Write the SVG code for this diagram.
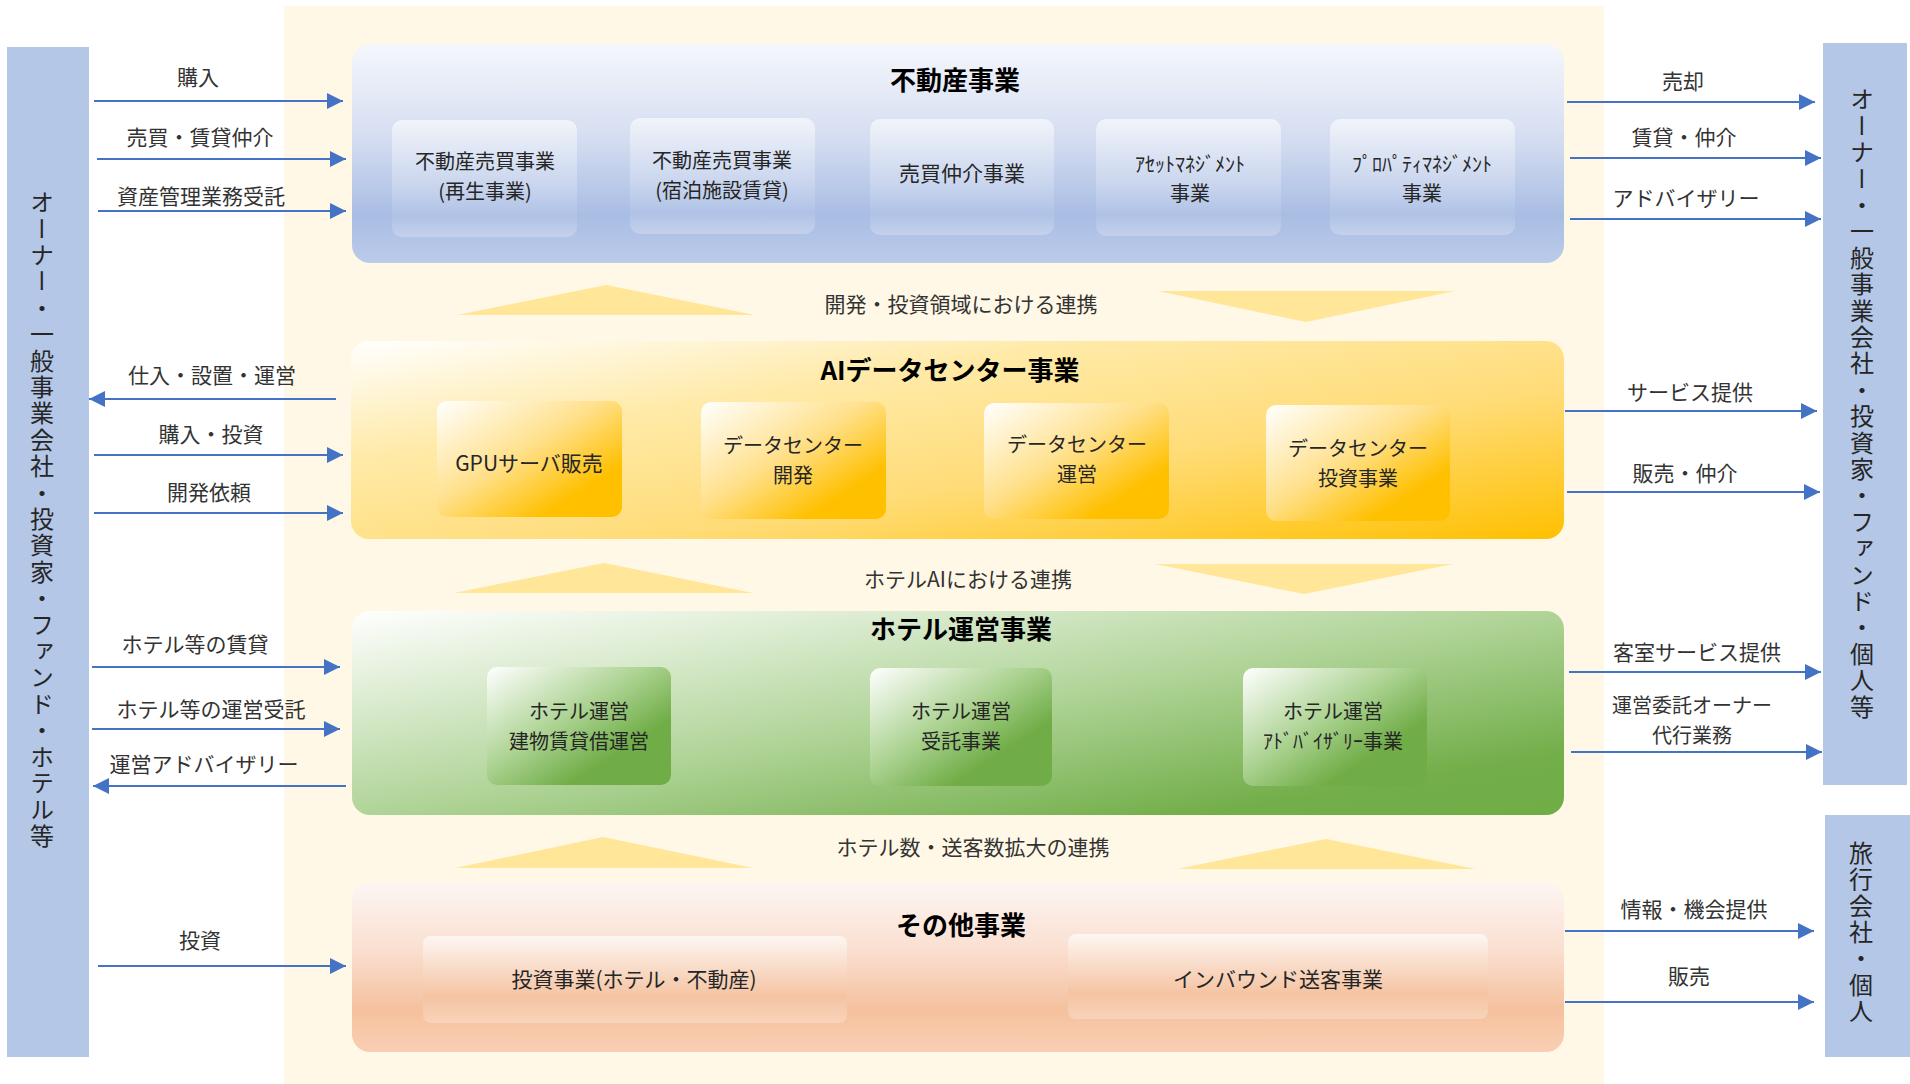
<svg xmlns="http://www.w3.org/2000/svg" width="1910" height="1084" viewBox="0 0 1910 1084">
<defs>
<style>
text{font-family:"Noto Sans CJK JP","Noto Sans",sans-serif;fill:#333333;dominant-baseline:central;text-anchor:middle;}
.lbl{font-size:21px;}
.in{font-size:21px;fill:#262626;}
.in2{font-size:20px;fill:#262626;}
.lbl2{font-size:20px;}
.ttl{font-size:26px;font-weight:bold;fill:#000000;}
.vt{font-size:24px;letter-spacing:2.4px;writing-mode:vertical-rl;fill:#262626;}
.bar{fill:#B4C7E7;}
.tri{fill:#FFE699;}
.cn{stroke:#4472C4;stroke-width:2.2;fill:none;marker-end:url(#ah);}
</style>
<marker id="ah" viewBox="0 0 16 16" markerUnits="userSpaceOnUse" markerWidth="16" markerHeight="16" refX="16" refY="8" orient="auto">
<path d="M0,0 L16,8 L0,16 z" fill="#4472C4"/>
</marker>
<linearGradient id="gRe" x1="0" y1="0" x2="0" y2="1">
<stop offset="0" stop-color="#F5F7FC"/><stop offset="0.45" stop-color="#D3DCF0"/><stop offset="0.78" stop-color="#A9BDE3"/><stop offset="1" stop-color="#BBCBEA"/>
</linearGradient>
<linearGradient id="gReIn" x1="0" y1="0" x2="0" y2="1">
<stop offset="0" stop-color="#F1F4FA"/><stop offset="0.55" stop-color="#CAD6EE"/><stop offset="0.82" stop-color="#AFC2E6"/><stop offset="1" stop-color="#C4D1EC"/>
</linearGradient>
<linearGradient id="gAi" x1="0" y1="0" x2="1" y2="1">
<stop offset="0" stop-color="#FFFFFF"/><stop offset="0.3" stop-color="#FFEAA8"/><stop offset="0.62" stop-color="#FFDC78"/><stop offset="1" stop-color="#FFC000"/>
</linearGradient>
<linearGradient id="gAiIn" x1="0" y1="0" x2="1" y2="1">
<stop offset="0" stop-color="#FFFFFF"/><stop offset="0.45" stop-color="#FFE08A"/><stop offset="0.78" stop-color="#FFC000"/><stop offset="1" stop-color="#FFC000"/>
</linearGradient>
<linearGradient id="gHo" x1="0" y1="0" x2="1" y2="1">
<stop offset="0" stop-color="#FFFFFF"/><stop offset="0.5" stop-color="#B0D498"/><stop offset="0.85" stop-color="#72AE49"/><stop offset="1" stop-color="#70AD47"/>
</linearGradient>
<linearGradient id="gHoIn" x1="0" y1="0" x2="1" y2="1">
<stop offset="0" stop-color="#FFFFFF"/><stop offset="0.45" stop-color="#A9D18E"/><stop offset="0.72" stop-color="#70AD47"/><stop offset="1" stop-color="#70AD47"/>
</linearGradient>
<linearGradient id="gOt" x1="0" y1="0" x2="0" y2="1">
<stop offset="0" stop-color="#FDF6F4"/><stop offset="0.4" stop-color="#FADFD0"/><stop offset="0.75" stop-color="#F5C19E"/><stop offset="1" stop-color="#F8CFB4"/>
</linearGradient>
<linearGradient id="gOtIn" x1="0" y1="0" x2="0" y2="1">
<stop offset="0" stop-color="#FDF6F3"/><stop offset="0.7" stop-color="#F5C4A2"/><stop offset="1" stop-color="#F8D3BA"/>
</linearGradient>
</defs>

<rect x="0" y="0" width="1910" height="1084" fill="#FFFFFF"/>
<rect x="284" y="6" width="1320" height="1078" fill="#FFF8E6"/>

<g id="left-party">
<rect class="bar" x="7" y="47" width="82" height="1010"/>
<text class="vt" x="42" y="520">オーナー・一般事業会社・投資家・ファンド・ホテル等</text>
</g>
<g id="right-party">
<rect class="bar" x="1823" y="43" width="84" height="742"/>
<text class="vt" x="1862" y="404">オーナー・一般事業会社・投資家・ファンド・個人等</text>
</g>
<g id="travel-party">
<rect class="bar" x="1825" y="815" width="85" height="242"/>
<text class="vt" x="1861" y="933">旅行会社・個人</text>
</g>

<g id="collab">
<polygon class="tri" points="457,315 606,285 755,315"/>
<polygon class="tri" points="1158,291 1455,291 1306,322"/>
<text class="lbl" x="961" y="303">開発・投資領域における連携</text>
<polygon class="tri" points="454,593 604,563 753,593"/>
<polygon class="tri" points="1155,564 1453,564 1304,594"/>
<text class="lbl" x="968" y="578">ホテルAIにおける連携</text>
<polygon class="tri" points="455,868 603,837 753,868"/>
<polygon class="tri" points="1177,869 1326,839 1476,869"/>
<text class="lbl" x="973" y="846">ホテル数・送客数拡大の連携</text>
</g>

<g id="real-estate">
<rect x="352" y="44" width="1212" height="219" rx="18" fill="url(#gRe)"/>
<text class="ttl" x="955" y="78">不動産事業</text>
<g id="re-1"><rect x="392" y="120" width="185" height="117" rx="10" fill="url(#gReIn)"/>
<text class="in2"><tspan x="485" y="160">不動産売買事業</tspan><tspan x="485" y="190">(再生事業)</tspan></text></g>
<g id="re-2"><rect x="630" y="118" width="185" height="116" rx="10" fill="url(#gReIn)"/>
<text class="in2"><tspan x="722" y="159">不動産売買事業</tspan><tspan x="722" y="189">(宿泊施設賃貸)</tspan></text></g>
<g id="re-3"><rect x="870" y="119" width="184" height="116" rx="10" fill="url(#gReIn)"/>
<text class="in" x="962" y="172">売買仲介事業</text></g>
<g id="re-4"><rect x="1096" y="119" width="185" height="117" rx="10" fill="url(#gReIn)"/>
<text class="in2"><tspan x="1190" y="163">ｱｾｯﾄﾏﾈｼﾞﾒﾝﾄ</tspan><tspan x="1190" y="192">事業</tspan></text></g>
<g id="re-5"><rect x="1330" y="119" width="185" height="116" rx="10" fill="url(#gReIn)"/>
<text class="in2"><tspan x="1422" y="163">ﾌﾟﾛﾊﾟﾃｨﾏﾈｼﾞﾒﾝﾄ</tspan><tspan x="1422" y="192">事業</tspan></text></g>
</g>

<g id="ai-dc">
<rect x="351" y="341" width="1213" height="198" rx="18" fill="url(#gAi)"/>
<text class="ttl" x="950" y="368">AIデータセンター事業</text>
<g id="ai-1"><rect x="437" y="401" width="185" height="116" rx="10" fill="url(#gAiIn)"/>
<text class="in" x="529" y="462">GPUサーバ販売</text></g>
<g id="ai-2"><rect x="701" y="402" width="185" height="117" rx="10" fill="url(#gAiIn)"/>
<text class="in2"><tspan x="793" y="444">データセンター</tspan><tspan x="793" y="474">開発</tspan></text></g>
<g id="ai-3"><rect x="984" y="403" width="185" height="116" rx="10" fill="url(#gAiIn)"/>
<text class="in2"><tspan x="1077" y="443">データセンター</tspan><tspan x="1077" y="473">運営</tspan></text></g>
<g id="ai-4"><rect x="1266" y="405" width="184" height="116" rx="10" fill="url(#gAiIn)"/>
<text class="in2"><tspan x="1358" y="447">データセンター</tspan><tspan x="1358" y="477">投資事業</tspan></text></g>
</g>

<g id="hotel">
<rect x="352" y="611" width="1212" height="204" rx="18" fill="url(#gHo)"/>
<text class="ttl" x="961" y="627">ホテル運営事業</text>
<g id="ho-1"><rect x="487" y="667" width="184" height="118" rx="10" fill="url(#gHoIn)"/>
<text class="in2"><tspan x="579" y="710">ホテル運営</tspan><tspan x="579" y="740">建物賃貸借運営</tspan></text></g>
<g id="ho-2"><rect x="870" y="668" width="182" height="118" rx="10" fill="url(#gHoIn)"/>
<text class="in2"><tspan x="961" y="710">ホテル運営</tspan><tspan x="961" y="740">受託事業</tspan></text></g>
<g id="ho-3"><rect x="1243" y="668" width="184" height="118" rx="10" fill="url(#gHoIn)"/>
<text class="in2"><tspan x="1333" y="710">ホテル運営</tspan><tspan x="1333" y="740">ｱﾄﾞﾊﾞｲｻﾞﾘｰ事業</tspan></text></g>
</g>

<g id="other">
<rect x="352" y="882" width="1212" height="170" rx="18" fill="url(#gOt)"/>
<text class="ttl" x="961" y="923">その他事業</text>
<g id="ot-1"><rect x="423" y="936" width="424" height="87" rx="8" fill="url(#gOtIn)"/>
<text class="in" x="634" y="978">投資事業(ホテル・不動産)</text></g>
<g id="ot-2"><rect x="1068" y="934" width="420" height="85" rx="8" fill="url(#gOtIn)"/>
<text class="in" x="1278" y="978">インバウンド送客事業</text></g>
</g>

<g id="connectors">
<line class="cn" x1="94" y1="101" x2="343" y2="101"/>
<line class="cn" x1="97" y1="159" x2="346" y2="159"/>
<line class="cn" x1="98" y1="211" x2="346" y2="211"/>
<line class="cn" x1="336" y1="399" x2="89" y2="399"/>
<line class="cn" x1="94" y1="455" x2="343" y2="455"/>
<line class="cn" x1="94" y1="513" x2="343" y2="513"/>
<line class="cn" x1="92" y1="667" x2="340" y2="667"/>
<line class="cn" x1="92" y1="729" x2="340" y2="729"/>
<line class="cn" x1="346" y1="786" x2="93" y2="786"/>
<line class="cn" x1="98" y1="966" x2="346" y2="966"/>
<line class="cn" x1="1567" y1="102" x2="1815" y2="102"/>
<line class="cn" x1="1570" y1="158" x2="1821" y2="158"/>
<line class="cn" x1="1570" y1="219" x2="1821" y2="219"/>
<line class="cn" x1="1565" y1="411" x2="1817" y2="411"/>
<line class="cn" x1="1567" y1="492" x2="1820" y2="492"/>
<line class="cn" x1="1569" y1="672" x2="1821" y2="672"/>
<line class="cn" x1="1571" y1="752" x2="1822" y2="752"/>
<line class="cn" x1="1565" y1="931" x2="1814" y2="931"/>
<line class="cn" x1="1565" y1="1002" x2="1814" y2="1002"/>
<text class="lbl" x="198" y="76">購入</text>
<text class="lbl" x="200" y="136">売買・賃貸仲介</text>
<text class="lbl" x="201" y="195">資産管理業務受託</text>
<text class="lbl" x="212" y="374">仕入・設置・運営</text>
<text class="lbl" x="211" y="433">購入・投資</text>
<text class="lbl" x="209" y="491">開発依頼</text>
<text class="lbl" x="195" y="643">ホテル等の賃貸</text>
<text class="lbl" x="211" y="708">ホテル等の運営受託</text>
<text class="lbl" x="204" y="763">運営アドバイザリー</text>
<text class="lbl" x="200" y="939">投資</text>
<text class="lbl" x="1683" y="80">売却</text>
<text class="lbl" x="1684" y="136">賃貸・仲介</text>
<text class="lbl" x="1686" y="197">アドバイザリー</text>
<text class="lbl" x="1690" y="391">サービス提供</text>
<text class="lbl" x="1685" y="472">販売・仲介</text>
<text class="lbl" x="1697" y="651">客室サービス提供</text>
<text class="lbl2"><tspan x="1692" y="704">運営委託オーナー</tspan><tspan x="1692" y="734">代行業務</tspan></text>
<text class="lbl" x="1694" y="908">情報・機会提供</text>
<text class="lbl" x="1689" y="975">販売</text>
</g>
</svg>
